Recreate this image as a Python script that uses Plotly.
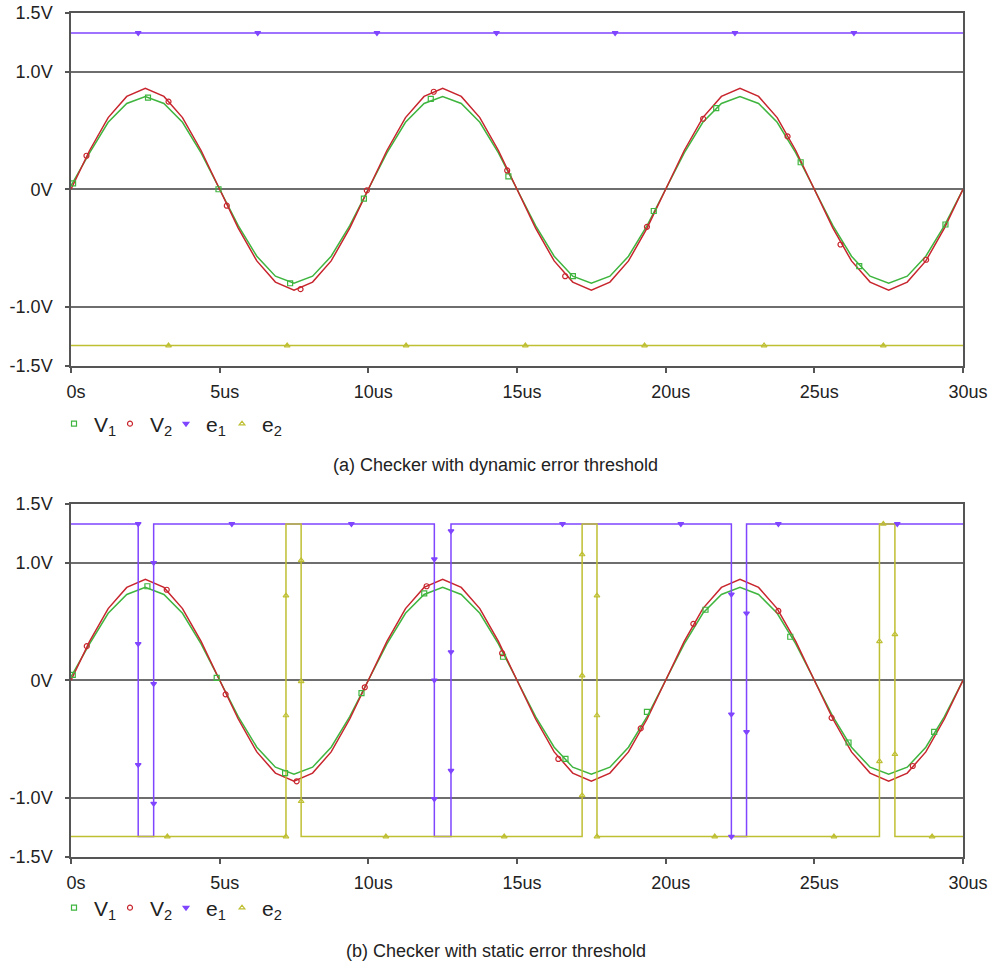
import plotly.graph_objects as go

# ---------------- data ----------------
t_grid = [0, 0.625, 1.25, 1.875, 2.5, 3.125, 3.75, 4.375, 5, 5.625, 6.25, 6.875, 7.5, 8.125, 8.75, 9.375,
          10, 10.625, 11.25, 11.875, 12.5, 13.125, 13.75, 14.375, 15, 15.625, 16.25, 16.875, 17.5, 18.125, 18.75, 19.375,
          20, 20.625, 21.25, 21.875, 22.5, 23.125, 23.75, 24.375, 25, 25.625, 26.25, 26.875, 27.5, 28.125, 28.75, 29.375, 30]

v1_vals = [0.03, 0.31, 0.57, 0.73, 0.79, 0.73, 0.57, 0.31, 0.00, -0.31, -0.57, -0.74, -0.80, -0.74, -0.57, -0.31,
           0.00, 0.31, 0.57, 0.73, 0.79, 0.73, 0.57, 0.31, 0.00, -0.31, -0.57, -0.74, -0.80, -0.74, -0.57, -0.31,
           0.00, 0.31, 0.57, 0.73, 0.79, 0.73, 0.57, 0.31, 0.00, -0.31, -0.57, -0.74, -0.80, -0.74, -0.57, -0.31, 0.00]

v2_vals = [0.00, 0.33, 0.61, 0.79, 0.86, 0.79, 0.61, 0.33, 0.00, -0.33, -0.61, -0.79, -0.86, -0.79, -0.61, -0.33,
           0.00, 0.33, 0.61, 0.79, 0.86, 0.79, 0.61, 0.33, 0.00, -0.33, -0.61, -0.79, -0.86, -0.79, -0.61, -0.33,
           0.00, 0.33, 0.61, 0.79, 0.86, 0.79, 0.61, 0.33, 0.00, -0.33, -0.61, -0.79, -0.86, -0.79, -0.61, -0.33, 0.00]

# panel (a): constant thresholds
e1a_t = [0, 30]
e1a_v = [1.33, 1.33]
e2a_t = [0, 30]
e2a_v = [-1.33, -1.33]

# panel (b): step signals (hv)
e1b_t = [0, 2.26, 2.78, 12.22, 12.78, 22.21, 22.72, 30]
e1b_v = [1.33, -1.33, 1.33, -1.33, 1.33, -1.33, 1.33, 1.33]
e2b_t = [0, 7.23, 7.74, 17.19, 17.69, 27.19, 27.71, 30]
e2b_v = [-1.33, 1.33, -1.33, 1.33, -1.33, 1.33, -1.33, -1.33]

# marker positions, panel (a)
v1m_a_t = [0.07, 2.59, 4.96, 7.37, 9.85, 12.10, 14.71, 16.88, 19.60, 21.70, 24.54, 26.51, 29.41]
v1m_a_v = [0.05, 0.78, 0.00, -0.80, -0.08, 0.77, 0.11, -0.74, -0.185, 0.69, 0.23, -0.655, -0.30]
v2m_a_t = [0.52, 3.28, 5.24, 7.72, 9.95, 12.20, 14.67, 16.62, 19.37, 21.26, 24.10, 25.88, 28.76]
v2m_a_v = [0.285, 0.746, -0.14, -0.85, -0.01, 0.83, 0.16, -0.74, -0.32, 0.60, 0.45, -0.47, -0.60]
e1m_a_t = [2.26, 6.28, 10.29, 14.31, 18.30, 22.33, 26.33]
e1m_a_v = [1.33, 1.33, 1.33, 1.33, 1.33, 1.33, 1.33]
e2m_a_t = [3.28, 7.27, 11.27, 15.28, 19.29, 23.31, 27.32]
e2m_a_v = [-1.33, -1.33, -1.33, -1.33, -1.33, -1.33, -1.33]

# marker positions, panel (b)
v1m_b_t = [0.06, 2.57, 4.90, 7.20, 9.77, 11.88, 14.53, 16.63, 19.37, 21.34, 24.19, 26.15, 29.03]
v1m_b_v = [0.045, 0.80, 0.02, -0.79, -0.11, 0.74, 0.20, -0.67, -0.27, 0.60, 0.37, -0.53, -0.44]
v2m_b_t = [0.53, 3.22, 5.20, 7.59, 9.88, 11.96, 14.50, 16.39, 19.16, 20.93, 23.79, 25.58, 28.31]
v2m_b_v = [0.29, 0.77, -0.12, -0.86, -0.06, 0.80, 0.23, -0.67, -0.41, 0.48, 0.59, -0.32, -0.73]
e1m_b_t = [2.26, 2.26, 2.26, 2.78, 2.78, 2.78, 5.41, 9.43, 12.22, 12.22, 12.22, 12.78, 12.78, 12.78,
           16.53, 20.51, 22.21, 22.21, 22.21, 22.72, 22.72, 23.79, 27.79]
e1m_b_v = [1.33, 0.31, -0.72, 1.00, -0.03, -1.05, 1.33, 1.33, 1.03, 0.00, -1.01, 1.27, 0.24, -0.77,
           1.33, 1.33, 0.73, -0.29, -1.33, 0.57, -0.44, 1.33, 1.33]
e2m_b_t = [3.24, 7.23, 7.23, 7.23, 7.74, 7.74, 7.74, 10.59, 14.57, 17.19, 17.19, 17.19, 17.69, 17.69, 17.69,
           21.65, 25.66, 27.19, 27.19, 27.32, 27.71, 27.71, 28.96]
e2m_b_v = [-1.33, 0.72, -0.30, -1.33, 1.02, -0.01, -1.03, -1.33, -1.33, 1.07, 0.04, -0.98, 0.72, -0.30, -1.33,
           -1.33, -1.33, 0.33, -0.69, 1.33, 0.39, -0.63, -1.33]

x_tickvals = [0, 5, 10, 15, 20, 25, 30]
x_ticktext = ["0s", "5us", "10us", "15us", "20us", "25us", "30us"]
y_tickvals = [-1.5, -1.0, 0, 1.0, 1.5]
y_ticktext = ["-1.5V", "-1.0V", "0V", "1.0V", "1.5V"]

names = ["V<sub>1</sub>", "V<sub>2</sub>", "e<sub>1</sub>", "e<sub>2</sub>"]
captions = ["(a) Checker with dynamic error threshold", "(b) Checker with static error threshold"]

# ---------------- style ----------------
GREEN = "#3fb53f"
RED = "#c8262e"
PURPLE = "#7f45ff"
YELLOW = "#bfbf33"
COLORS = [GREEN, RED, PURPLE, YELLOW]
SYMBOLS = ["square-open", "circle-open", "triangle-down", "triangle-up-open"]
FONT = "Liberation Sans, Arial, Helvetica, sans-serif"

fig = go.Figure()

panels = [
    dict(xa="x", ya="y", lg="legend",
         lines=[(t_grid, v1_vals, "linear"), (t_grid, v2_vals, "linear"),
                (e1a_t, e1a_v, "linear"), (e2a_t, e2a_v, "linear")],
         marks=[(v1m_a_t, v1m_a_v), (v2m_a_t, v2m_a_v), (e1m_a_t, e1m_a_v), (e2m_a_t, e2m_a_v)]),
    dict(xa="x2", ya="y2", lg="legend2",
         lines=[(t_grid, v1_vals, "linear"), (t_grid, v2_vals, "linear"),
                (e1b_t, e1b_v, "hv"), (e2b_t, e2b_v, "hv")],
         marks=[(v1m_b_t, v1m_b_v), (v2m_b_t, v2m_b_v), (e1m_b_t, e1m_b_v), (e2m_b_t, e2m_b_v)]),
]

for p in panels:
    for i, (tx, vy, shape) in enumerate(p["lines"]):
        fig.add_trace(go.Scatter(x=tx, y=vy, mode="lines", line=dict(color=COLORS[i], width=1.5, shape=shape),
                                 xaxis=p["xa"], yaxis=p["ya"], showlegend=False, hoverinfo="skip",
                                 legendgroup=p["lg"] + str(i)))
    for i, (tx, vy) in enumerate(p["marks"]):
        fig.add_trace(go.Scatter(x=tx, y=vy, mode="markers", name=names[i],
                                 marker=dict(symbol=SYMBOLS[i], size=5, color=COLORS[i],
                                             line=dict(color=COLORS[i], width=1.2)),
                                 xaxis=p["xa"], yaxis=p["ya"], legend=p["lg"], showlegend=True,
                                 legendgroup=p["lg"] + str(i)))
    # empty spacer entry so the last legend label is not clipped
    fig.add_trace(go.Scatter(x=[None], y=[None], mode="markers", name=" ",
                             marker=dict(size=1, color="rgba(0,0,0,0)"),
                             xaxis=p["xa"], yaxis=p["ya"], legend=p["lg"], showlegend=True,
                             hoverinfo="skip"))

W, H = 991, 967
def px_x(v):
    return v / W
def px_y(v):
    return 1 - v / H

axis_common = dict(showline=True, linecolor="#555555", linewidth=1.5, mirror=True,
                   ticks="outside", tickcolor="#555555", tickwidth=1.5, automargin=False,
                   tickfont=dict(family=FONT, size=18, color="#222222"), zeroline=False)

xdom = [px_x(71), px_x(963)]
ydom_a = [px_y(365.5), px_y(13)]
ydom_b = [px_y(856.5), px_y(504)]

xaxis_kw = dict(axis_common, range=[0, 30], tickvals=x_tickvals, ticktext=x_ticktext, showgrid=False,
                ticklen=6, ticklabelshift=5, ticklabelstandoff=3)
yaxis_kw = dict(axis_common, range=[-1.5, 1.5], tickvals=y_tickvals, ticktext=y_ticktext, showgrid=True,
                gridcolor="#6e6e6e", gridwidth=1.5, ticklen=4, ticklabelstandoff=9)

legend_kw = dict(orientation="h", xanchor="left", yanchor="middle",
                 font=dict(family=FONT, size=21, color="#222222"),
                 bgcolor="rgba(0,0,0,0)", entrywidth=11, entrywidthmode="pixels",
                 itemclick=False, itemdoubleclick=False)

fig.update_layout(
    width=W, height=H,
    margin=dict(l=0, r=0, t=0, b=0, autoexpand=False),
    paper_bgcolor="white", plot_bgcolor="white",
    font=dict(family=FONT, color="#222222"),
    xaxis=dict(xaxis_kw, domain=xdom, anchor="y"),
    yaxis=dict(yaxis_kw, domain=ydom_a, anchor="x"),
    xaxis2=dict(xaxis_kw, domain=xdom, anchor="y2"),
    yaxis2=dict(yaxis_kw, domain=ydom_b, anchor="x2"),
    legend=dict(legend_kw, x=px_x(54), y=px_y(424)),
    legend2=dict(legend_kw, x=px_x(54), y=px_y(908)),
    annotations=[
        dict(text=captions[0], x=0.5, y=px_y(465), xref="paper", yref="paper", showarrow=False,
             font=dict(family=FONT, size=18, color="#222222"), xanchor="center", yanchor="middle"),
        dict(text=captions[1], x=0.5, y=px_y(951), xref="paper", yref="paper", showarrow=False,
             font=dict(family=FONT, size=18, color="#222222"), xanchor="center", yanchor="middle"),
    ],
    showlegend=True,
)

fig.write_html("out.html")
